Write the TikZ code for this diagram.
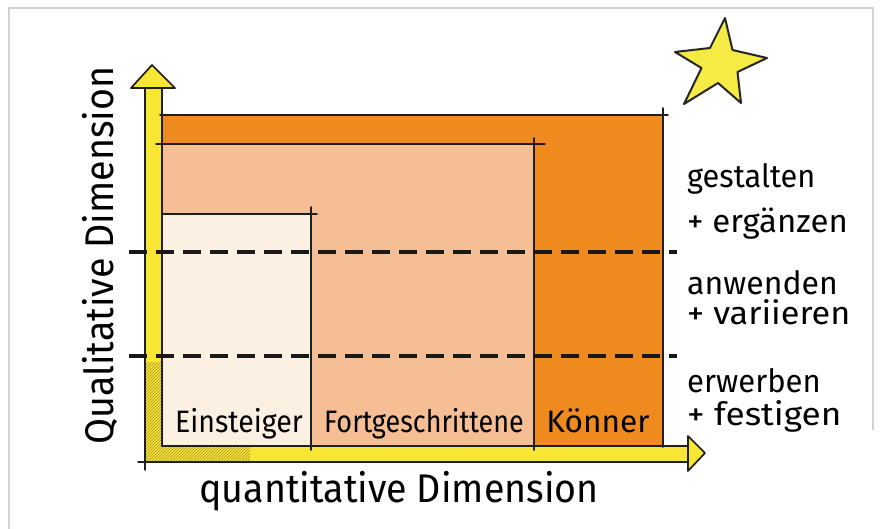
\documentclass[tikz,border=0pt]{standalone}
\usepackage{fontspec}
\setmainfont{Fira Sans}
\usetikzlibrary{patterns}
\definecolor{konner}{HTML}{EF8A1F}
\definecolor{midor}{HTML}{F5BE95}
\definecolor{lightor}{HTML}{FCF0E2}
\definecolor{axy}{HTML}{F8E634}
\definecolor{stary}{HTML}{F6EA44}
\definecolor{hatchc}{HTML}{A8902A}
\newcommand{\narr}[2]{\scalebox{#1}[1]{#2}}
\begin{document}
\begin{tikzpicture}[x=1pt,y=-1pt,
  ink/.style={line width=1.7pt, black!88, line cap=round},
  dashln/.style={line width=4.5pt, black!90, dash pattern=on 18pt off 9pt},
  rlbl/.style={inner sep=0pt, anchor=base west, font=\fontsize{32}{36}\selectfont},
  clbl/.style={inner sep=0pt, anchor=base, font=\fontsize{31}{36}\selectfont},
  albl/.style={inner sep=0pt, anchor=base west, font=\fontsize{40}{46}\selectfont}]
\useasboundingbox (0,0) rectangle (881,529);
\fill[white] (0,0) rectangle (881,529);
% frame
\draw[black!18, line width=2.5pt] (9,529) -- (9,8) -- (873,8) -- (873,430);
% level fills
\fill[konner] (162,115) rectangle (663,446);
\fill[midor] (162,144) rectangle (534,446);
\fill[lightor] (162,214) rectangle (311,446);
% yellow axes
\fill[axy] (145,88) rectangle (162,462);
\fill[axy] (145,446) rectangle (688,462);
\fill[pattern=north east lines, pattern color=hatchc] (145,362) rectangle (162,462);
\fill[pattern=north east lines, pattern color=hatchc] (162,446) rectangle (250,462);
\draw[ink, fill=axy, line join=round] (131,88) -- (152,65) -- (175,88) -- cycle;
\draw[ink, fill=axy, line join=round] (688,436) -- (705,453) -- (688,471) -- cycle;
\draw[ink] (145,88) -- (145,470);
\draw[ink] (162,88) -- (162,446);
\draw[ink] (138,462) -- (688,462);
\draw[ink] (162,446) -- (688,446);
% level borders
\draw[ink] (160,115) -- (668,115);
\draw[ink] (663,108) -- (663,447);
\draw[ink] (156,144) -- (545,144);
\draw[ink] (534,138) -- (534,450);
\draw[ink] (162,214) -- (317,214);
\draw[ink] (311,207) -- (311,450);
% dashed boundaries
\draw[dashln] (129,252) -- (677,252);
\draw[dashln] (129,356) -- (677,356);
% star
\draw[line width=2pt, black!85, fill=stary, line join=round]
  (725,18) -- (732.5,50) -- (767,58) -- (737.5,72) -- (741,103) -- (718,83)
  -- (684,104) -- (701.5,68) -- (675,52) -- (710,48) -- cycle;
% column labels
\node[clbl] (ein) at (239,432) {\narr{0.92}{Einsteiger}};
\node[clbl] (fort) at (424,432) {\narr{0.87}{Fortgeschrittene}};
\node[clbl] (kon) at (598,432) {\narr{1.02}{Könner}};
% right labels
\node[rlbl] (g1) at (687,188) {\narr{0.96}{gestalten}};
\node[rlbl] (g2) at (687,233) {\narr{1.03}{+ ergänzen}};
\node[rlbl] (a1) at (687,295) {\narr{1.0}{anwenden}};
\node[rlbl] (a2) at (687,325) {\narr{1.07}{+ variieren}};
\node[rlbl] (e1) at (687,392) {\narr{0.97}{erwerben}};
\node[rlbl] (e2) at (687,425) {\narr{1.1}{+ festigen}};
% axis labels
\node[albl] (qx) at (199,502) {\narr{0.94}{quantitative Dimension}};
\node[albl, rotate=90] (qy) at (113,445) {\narr{0.94}{Qualitative Dimension}};
\end{tikzpicture}
\end{document}
